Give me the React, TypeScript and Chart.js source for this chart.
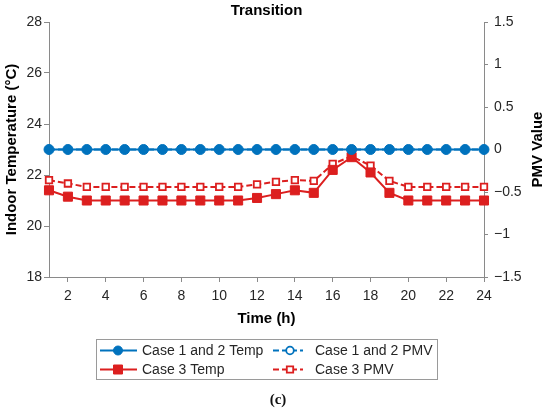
import { useEffect, useRef } from "react";
import { Chart, registerables } from "chart.js";

Chart.register(...registerables);

// hours of the day
const hours = [1, 2, 3, 4, 5, 6, 7, 8, 9, 10, 11, 12, 13, 14, 15, 16, 17, 18, 19, 20, 21, 22, 23, 24];

// indoor temperature (°C)
const case12Temp = [23, 23, 23, 23, 23, 23, 23, 23, 23, 23, 23, 23, 23, 23, 23, 23, 23, 23, 23, 23, 23, 23, 23, 23];
const case3Temp = [21.4, 21.15, 21.0, 21.0, 21.0, 21.0, 21.0, 21.0, 21.0, 21.0, 21.0, 21.1, 21.25, 21.4, 21.3, 22.2, 22.7, 22.1, 21.3, 21.0, 21.0, 21.0, 21.0, 21.0];

// PMV values
const case12Pmv = [0, 0, 0, 0, 0, 0, 0, 0, 0, 0, 0, 0, 0, 0, 0, 0, 0, 0, 0, 0, 0, 0, 0, 0];
const case3Pmv = [-0.36, -0.4, -0.44, -0.44, -0.44, -0.44, -0.44, -0.44, -0.44, -0.44, -0.44, -0.41, -0.38, -0.36, -0.37, -0.17, -0.08, -0.19, -0.37, -0.44, -0.44, -0.44, -0.44, -0.44];

// tick labels
const xTicks = [2, 4, 6, 8, 10, 12, 14, 16, 18, 20, 22, 24];
const tempTicks = [18, 20, 22, 24, 26, 28];
const pmvTicks = [-1.5, -1, -0.5, 0, 0.5, 1, 1.5];

const BLUE = "#0072BD";
const RED = "#DC1F1F";
const AXIS = "#8a8a8a";
const TEXT = "#262626";
const FONT = "'Liberation Sans', Arial, sans-serif";

const toPoints = (ys: number[]) => hours.map((h, i) => ({ x: h, y: ys[i] }));

// boxed two-column legend, right axis title (reads bottom to top) and the (c) caption
const boxLegend = {
  id: "boxLegend",
  afterDraw(chart: any) {
    const ctx = chart.ctx as CanvasRenderingContext2D;
    const sets = chart.data.datasets;
    const area = chart.chartArea;
    ctx.save();

    // right axis title
    ctx.save();
    ctx.translate(538, (area.top + area.bottom) / 2);
    ctx.rotate(-Math.PI / 2);
    ctx.fillStyle = "#000";
    ctx.font = `bold 15px ${FONT}`;
    ctx.textAlign = "center";
    ctx.textBaseline = "middle";
    ctx.fillText("PMV Value", 0, 0);
    ctx.restore();

    ctx.strokeStyle = "#9a9a9a";
    ctx.lineWidth = 1;
    ctx.strokeRect(96.5, 339.5, 341, 40);

    const cols = [
      { x0: 100, x1: 137, mx: 118, tx: 142 },
      { x0: 273, x1: 303, mx: 290, tx: 315 },
    ];
    const rows = [350.5, 369.5];
    sets.forEach((ds: any, i: number) => {
      const c = cols[i % 2];
      const y = rows[Math.floor(i / 2)];
      const hollow = ds.pointBackgroundColor === "#ffffff";
      ctx.strokeStyle = ds.borderColor;
      ctx.lineWidth = 2;
      ctx.setLineDash(ds.borderDash || []);
      ctx.beginPath();
      ctx.moveTo(c.x0, y);
      ctx.lineTo(c.x1, y);
      ctx.stroke();
      ctx.setLineDash([]);
      ctx.fillStyle = ds.pointBackgroundColor;
      ctx.lineWidth = ds.pointBorderWidth;
      ctx.beginPath();
      if (ds.pointStyle === "circle") {
        ctx.arc(c.mx, y, hollow ? 3.8 : 4.5, 0, Math.PI * 2);
      } else {
        const s = hollow ? 3.2 : 4.5;
        ctx.rect(c.mx - s, y - s, 2 * s, 2 * s);
      }
      ctx.fill();
      ctx.stroke();
      ctx.fillStyle = TEXT;
      ctx.font = `14px ${FONT}`;
      ctx.textBaseline = "middle";
      ctx.textAlign = "left";
      ctx.fillText(ds.label, c.tx, y + 0.5);
    });

    ctx.fillStyle = "#111";
    ctx.font = "bold 15px 'Liberation Serif', 'Times New Roman', serif";
    ctx.textAlign = "center";
    ctx.textBaseline = "middle";
    ctx.fillText("(c)", 278, 400);
    ctx.restore();
  },
};

export default function App() {
  const canvasRef = useRef<HTMLCanvasElement | null>(null);
  const chartRef = useRef<Chart | null>(null);

  useEffect(() => {
    document.body.style.margin = "0";
    if (!canvasRef.current) return;
    const ctx = canvasRef.current.getContext("2d");
    if (!ctx) return;

    Chart.defaults.font.family = FONT;
    Chart.defaults.color = TEXT;

    const tickFont = { size: 14 };
    const titleFont = { size: 15, weight: "bold" as const };

    chartRef.current = new Chart(ctx, {
      type: "line",
      data: {
        datasets: [
          {
            label: "Case 1 and 2 Temp",
            data: toPoints(case12Temp),
            yAxisID: "y",
            borderColor: BLUE,
            borderWidth: 2,
            pointStyle: "circle",
            pointRadius: 5,
            pointBackgroundColor: BLUE,
            pointBorderColor: BLUE,
            pointBorderWidth: 1,
            clip: false,
          },
          {
            label: "Case 1 and 2 PMV",
            data: toPoints(case12Pmv),
            yAxisID: "y1",
            borderColor: BLUE,
            borderWidth: 2,
            borderDash: [6, 3],
            pointStyle: "circle",
            pointRadius: 3.5,
            pointBackgroundColor: "#ffffff",
            pointBorderColor: BLUE,
            pointBorderWidth: 1.8,
            clip: false,
          },
          {
            label: "Case 3 Temp",
            data: toPoints(case3Temp),
            yAxisID: "y",
            borderColor: RED,
            borderWidth: 2,
            pointStyle: "rect",
            pointRadius: 6.4,
            pointBackgroundColor: RED,
            pointBorderColor: RED,
            pointBorderWidth: 1,
            clip: false,
          },
          {
            label: "Case 3 PMV",
            data: toPoints(case3Pmv),
            yAxisID: "y1",
            borderColor: RED,
            borderWidth: 2,
            borderDash: [6, 3],
            pointStyle: "rect",
            pointRadius: 4.6,
            pointBackgroundColor: "#ffffff",
            pointBorderColor: RED,
            pointBorderWidth: 1.8,
            clip: false,
          },
        ],
      },
      options: {
        responsive: true,
        maintainAspectRatio: false,
        animation: false,
        layout: { padding: { left: 0, right: 0, top: 0, bottom: 79 } },
        plugins: {
          legend: { display: false },
          tooltip: { enabled: false },
          title: {
            display: true,
            text: "Transition",
            fullSize: false,
            color: "#000",
            font: titleFont,
            padding: { top: 2, bottom: 2 },
          },
        },
        scales: {
          x: {
            type: "linear",
            min: 1,
            max: 24,
            afterBuildTicks: (s: any) => {
              s.ticks = xTicks.map((v) => ({ value: v }));
            },
            afterFit: (s: any) => {
              s.height = 55;
            },
            border: { display: true, color: AXIS, width: 1 },
            grid: { drawOnChartArea: false, drawTicks: true, tickLength: 5, color: AXIS },
            ticks: { font: tickFont, color: TEXT, padding: 6, maxRotation: 0, autoSkip: false },
            title: {
              display: true,
              text: "Time (h)",
              color: "#000",
              font: titleFont,
              padding: { top: 4, bottom: 4 },
            },
          },
          y: {
            type: "linear",
            position: "left",
            min: 18,
            max: 28,
            afterBuildTicks: (s: any) => {
              s.ticks = tempTicks.map((v) => ({ value: v }));
            },
            afterFit: (s: any) => {
              s.width = 49;
            },
            border: { display: true, color: AXIS, width: 1 },
            grid: { drawOnChartArea: false, drawTicks: true, tickLength: 5, color: AXIS },
            ticks: { font: tickFont, color: TEXT, padding: 2 },
            title: {
              display: true,
              text: "Indoor Temperature (°C)",
              color: "#000",
              font: titleFont,
              padding: { top: 3, bottom: 3 },
            },
          },
          y1: {
            type: "linear",
            position: "right",
            min: -1.5,
            max: 1.5,
            afterBuildTicks: (s: any) => {
              s.ticks = pmvTicks.map((v) => ({ value: v }));
            },
            afterFit: (s: any) => {
              s.width = 66;
            },
            border: { display: true, color: AXIS, width: 1 },
            grid: { drawOnChartArea: false, drawTicks: true, tickLength: 4, color: AXIS },
            ticks: {
              font: tickFont,
              color: TEXT,
              padding: 6,
              callback: (v: any) => (Number(v) < 0 ? "\u2212" + Math.abs(Number(v)) : String(v)),
            },
            title: { display: false },
          },
        },
      },
      plugins: [boxLegend],
    });

    return () => {
      if (chartRef.current) {
        chartRef.current.destroy();
        chartRef.current = null;
      }
    };
  }, []);

  return (
    <div style={{ width: "550px", height: "411px", position: "relative", background: "#fff" }}>
      <canvas ref={canvasRef} />
    </div>
  );
}
